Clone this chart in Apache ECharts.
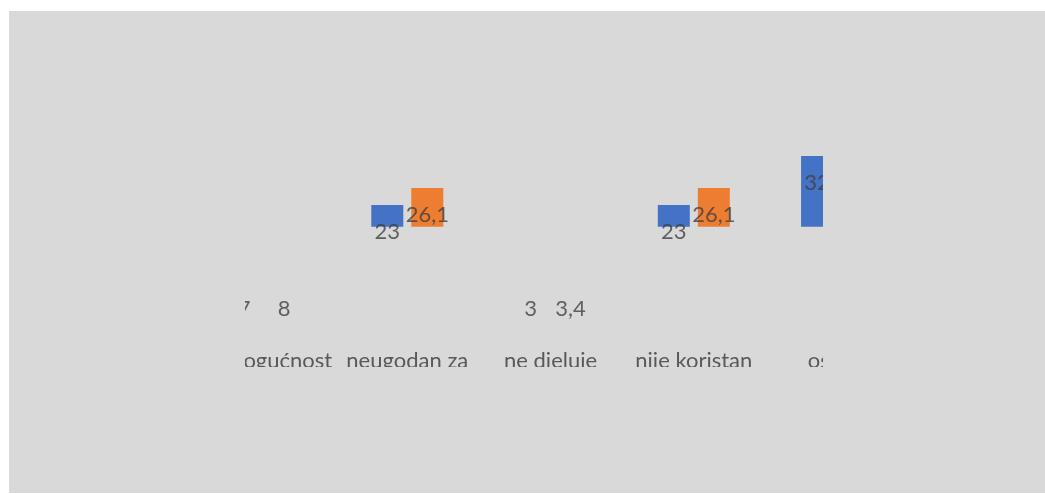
<!DOCTYPE html>
<html><head><meta charset="utf-8">
<script src="https://cdn.jsdelivr.net/npm/echarts@6/dist/echarts.min.js"></script>
<style>
html,body{margin:0;padding:0;background:#fff;width:1045px;height:494px;overflow:hidden;}
#bg{position:absolute;left:9px;top:11px;width:1036px;height:482px;background:#d9d9d9;}
#clip{position:absolute;left:245px;top:60px;width:578px;height:307px;overflow:hidden;}
#chart{position:absolute;left:-245px;top:-60px;width:1045px;height:494px;}
</style></head><body>
<div id="bg"></div>
<div id="clip"><div id="chart"></div></div>
<script>
// Data
const categories = ['ne mogućnost', 'neugodan za\nkorištenje', 'ne djeluje', 'nije koristan', 'ostalo'];
const seriesNames = ['Broj', 'Postotak'];
const valuesBlue = [7, 23, 3, 23, 32];
const valuesOrange = [8, 26.1, 3.4, 26.1, 36.4];

const AXIS_MIN = 19, AXIS_MAX = 50;
const FONT = 'Lato';
function fmt(v){ return String(v).replace('.', ','); }

function labelSeries(vals, dx){
  return {
    type: 'scatter', symbolSize: 1, clip: false, silent: true, z: 5,
    itemStyle: {color: 'rgba(0,0,0,0)'},
    data: vals.map((v, i) => ({
      value: [i, Math.max(v, AXIS_MIN)],
      raw: v,
      label: {offset: [dx, v >= AXIS_MIN ? 27 : 82]}
    })),
    label: {show: true, position: 'inside', formatter: p => fmt(p.data.raw),
      color: '#404040', fontSize: 22, fontFamily: FONT}
  };
}

const chart = echarts.init(document.getElementById('chart'), null, {renderer: 'canvas'});
chart.setOption({
  animation: false,
  backgroundColor: 'transparent',
  textStyle: {fontFamily: FONT},
  grid: {left: 192.4, right: 136.3, top: 58.1, bottom: 267.3, containLabel: false, outerBoundsMode: 'none'},
  xAxis: {
    type: 'category', data: categories,
    axisLine: {show: false}, axisTick: {show: false}, splitLine: {show: false},
    axisLabel: {interval: 0, margin: 122, color: '#595959', fontSize: 22, fontFamily: FONT, lineHeight: 25}
  },
  yAxis: {type: 'value', min: AXIS_MIN, max: AXIS_MAX, show: false, splitLine: {show: false}},
  series: [
    {name: seriesNames[0], type: 'bar', data: valuesBlue, barWidth: 32, barGap: '25%',
      itemStyle: {color: '#4472C4'}, clip: true},
    {name: seriesNames[1], type: 'bar', data: valuesOrange, barWidth: 32, barGap: '25%',
      itemStyle: {color: '#ED7D31'}, clip: true},
    labelSeries(valuesBlue, -20),
    labelSeries(valuesOrange, 20)
  ]
});
</script>
</body></html>
